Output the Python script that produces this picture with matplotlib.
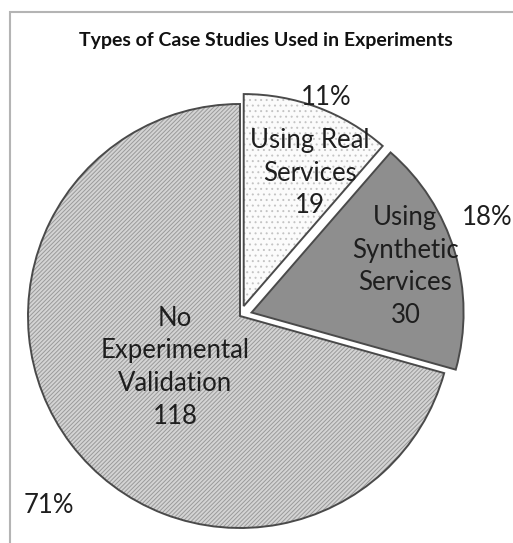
import numpy as np
import matplotlib.pyplot as plt
from matplotlib.patches import Rectangle

# chart data
categories = ['Using Real\nServices', 'Using\nSynthetic\nServices', 'No\nExperimental\nValidation']
counts = [19, 30, 118]
explode = [0.05, 0.057, 0]   # fraction of radius
face_colors = ['#fbfbfb', '#8e8e8e', '#d4d4d4']
hatch_colors = ['#c4c4c4', '#808080', '#9a9a9a']
hatches = ['...', '', '////////']

plt.rcParams['font.family'] = ['Lato', 'DejaVu Sans']
plt.rcParams['hatch.linewidth'] = 0.7

fig = plt.figure(figsize=(5.13, 5.43), dpi=100)
ax = fig.add_axes([0, 0, 1, 1])

center = (240, 227)
radius = 212
expl_units = [e * radius for e in explode]

# fill + hatch layer
wedges, _ = ax.pie(counts, explode=expl_units, startangle=90, counterclock=False,
                   center=center, radius=radius, colors=face_colors, frame=True)
for w, h, hc in zip(wedges, hatches, hatch_colors):
    w.set_hatch(h)
    w.set_edgecolor(hc)
    w.set_linewidth(0)
# outline layer
ax.pie(counts, explode=expl_units, startangle=90, counterclock=False,
       center=center, radius=radius, frame=True,
       wedgeprops=dict(fill=False, edgecolor='#4a4a4a', linewidth=1.4))
ax.set_xlim(0, 513)
ax.set_ylim(0, 543)
ax.set_aspect('equal')
ax.axis('off')

total = sum(counts)
# label placement: (distance, angle tweak in degrees)
in_pos = [(0.75, -5.7), (0.815, 0), (0.39, 1)]
out_pos = [(1.11, -1), (1.255, 5), (1.27, 7.5)]
cx, cy = center
for w, cat, n, (di, ai), (do, ao) in zip(wedges, categories, counts, in_pos, out_pos):
    mid = (w.theta1 + w.theta2) / 2
    a = np.deg2rad(mid + ai)
    ax.text(cx + di * radius * np.cos(a), cy + di * radius * np.sin(a),
            f'{cat}\n{n}', ha='center', va='center', fontsize=18.5,
            color='#1e1e1e', linespacing=1.38)
    a = np.deg2rad(mid + ao)
    ax.text(cx + do * radius * np.cos(a), cy + do * radius * np.sin(a),
            f'{round(100 * n / total)}%', ha='center', va='center',
            fontsize=18.5, color='#1e1e1e')

fig.text(0.518, 0.926, 'Types of Case Studies Used in Experiments',
         ha='center', va='center', fontsize=14, fontweight='bold', color='#111111')

# chart border
fig.patches.append(Rectangle((10 / 513, -0.05), 1.2, 1 - 12 / 543 + 0.05,
                             transform=fig.transFigure, fill=False,
                             edgecolor='#b4b4b4', linewidth=1.5))

fig.savefig('out.png', dpi=100)
